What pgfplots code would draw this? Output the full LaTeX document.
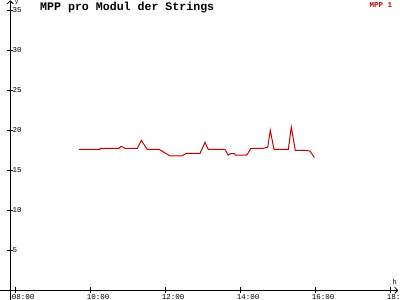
\documentclass[border=0pt]{standalone}
\usepackage{fontspec}
\setmainfont{Liberation Mono}
\usepackage{pgfplots}
\pgfplotsset{compat=1.18}
\usetikzlibrary{arrows.meta}
\definecolor{mppred}{RGB}{200,0,0}
\pgfplotstableread{
h v
9.688 17.6
10.248 17.6
10.26 17.75
10.755 17.75
10.808 18.0
10.915 17.75
11.243 17.75
11.349 18.75
11.509 17.6
11.829 17.6
12.115 16.8
12.435 16.8
12.541 17.1
12.915 17.1
13.048 18.5
13.136 17.6
13.581 17.6
13.669 16.9
13.728 17.07
13.83 17.07
13.86 16.9
14.16 16.9
14.275 17.75
14.603 17.75
14.72 17.9
14.789 20.0
14.888 17.6
15.269 17.6
15.349 20.4
15.456 17.5
15.715 17.5
15.848 17.4
15.963 16.6
}\mpp
\begin{document}
\begin{tikzpicture}
\path[use as bounding box] (-10.3bp,-9.7bp) rectangle (389.7bp,290.3bp);
\begin{axis}[
  at={(0,0)}, anchor=south west,
  scale only axis,
  width=387.9bp, height=290bp,
  xmin=7.856, xmax=18.2,
  ymin=0, ymax=36.25,
  axis lines=left,
  x axis line style={-{Straight Barb[length=3bp,width=6bp]}, shorten <=-10.3bp, line width=0.8bp},
  y axis line style={-{Straight Barb[length=3bp,width=6bp]}, shorten <=-10bp, line width=0.8bp},
  tick align=center,
  major tick length=6bp,
  tick style={black, line width=0.8bp},
  xtick={8,10,12,14,16,18},
  xticklabels={08:00,10:00,12:00,14:00,16:00,18:00},
  ytick={5,10,15,20,25,30,35},
  /pgf/number format/assume math mode=true,
  ticklabel style={font=\fontsize{7.5bp}{8bp}\selectfont},
  xticklabel style={anchor=north west, inner sep=0pt, xshift=-4bp, yshift=-1bp},
  yticklabel style={anchor=west, inner sep=0pt, xshift=5.2bp},
  clip mode=individual,
  legend style={draw=none, fill=none, at={(0.99,1.0)}, anchor=north east,
     font=\fontsize{7.5bp}{8bp}\selectfont\bfseries, text=mppred, inner sep=0pt},
  legend image code/.code={},
]
\addplot[mppred, line width=1bp] table[x=h, y=v] {\mpp};
\addlegendentry{MPP 1}
\node[anchor=base west, inner sep=0pt, font=\fontsize{7bp}{8bp}\selectfont] at (rel axis cs:0.985,0.02) {h};
\end{axis}
\node[anchor=base west, inner sep=0pt, font=\fontsize{11.6bp}{12bp}\selectfont\bfseries] at (29.7bp,279.5bp) {MPP pro Modul der Strings};
\node[anchor=north west, inner sep=0pt, font=\fontsize{6bp}{7bp}\selectfont] at (4.5bp,290bp) {y};
\end{tikzpicture}
\end{document}
